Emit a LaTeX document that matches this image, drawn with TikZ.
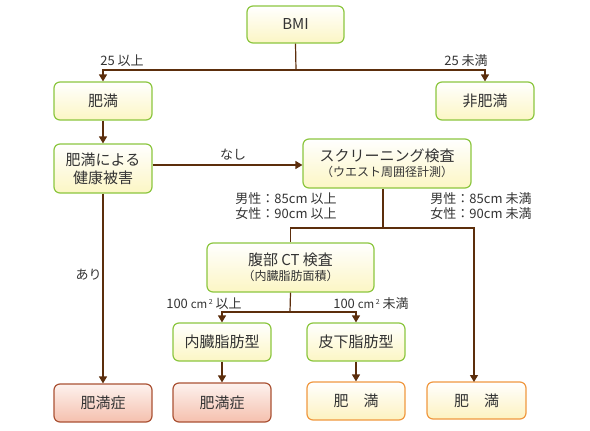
\documentclass[tikz,border=0pt]{standalone}
\usepackage{fontspec}
\setmainfont{Noto Sans CJK JP}
\usetikzlibrary{arrows.meta}
\definecolor{txt}{RGB}{51,51,51}
\definecolor{lnc}{RGB}{92,46,12}
\definecolor{gbd}{RGB}{140,198,63}
\definecolor{gfl}{RGB}{252,246,196}
\definecolor{rbd}{RGB}{170,82,52}
\definecolor{rfl}{RGB}{245,192,174}
\definecolor{rtp}{RGB}{253,242,238}
\definecolor{obd}{RGB}{240,152,64}
\definecolor{ofl}{RGB}{253,242,192}
\newcommand{\sqcmunit}{{\fontsize{11.5}{13}\selectfont cm}\kern1.5pt\raisebox{4.5pt}{\fontsize{7}{8}\selectfont 2}}
\tikzset{
  box/.style={rounded corners=6pt, line width=1.2pt, text=txt, align=center,
    inner sep=0pt, font=\fontsize{15}{18}\selectfont},
  gbox/.style={box, draw=gbd, top color=white, bottom color=gfl},
  rbox/.style={box, draw=rbd, top color=rtp, bottom color=rfl},
  obox/.style={box, draw=obd, top color=white, bottom color=ofl},
  line/.style={draw=lnc, line width=1.2pt},
  arr/.style={line, -{Triangle[length=7pt,width=8pt]}},
  lab/.style={text=txt, font=\fontsize{13}{15}\selectfont, inner sep=0pt, align=left}
}
\begin{document}
\begin{tikzpicture}[x=1pt,y=-1pt]
\useasboundingbox (0,0) rectangle (590,431);
% boxes
\node[gbox, minimum width=97pt, minimum height=37pt] (bmi) at (295.5,24.5) {BMI};
\node[gbox, minimum width=98pt, minimum height=38pt] (ob1) at (103,101) {肥満};
\node[gbox, minimum width=98pt, minimum height=38pt] (nob) at (485,101) {非肥満};
\node[gbox, minimum width=98pt, minimum height=49pt] (hlt) at (103,168.5) {肥満による\\健康被害};
\node[gbox, minimum width=168pt, minimum height=49pt] (scr) at (387,163.5)
  {スクリーニング検査\\[-3pt]{\fontsize{12}{13}\selectfont （ウエスト周囲径計測）}};
\node[gbox, minimum width=167pt, minimum height=49pt] (ct) at (290.5,267.5)
  {腹部 CT 検査\\[-3pt]{\fontsize{12}{13}\selectfont （内臓脂肪面積）}};
\node[gbox, minimum width=98pt, minimum height=38pt] (vis) at (222,342) {内臓脂肪型};
\node[gbox, minimum width=98pt, minimum height=38pt] (sbc) at (356,342) {皮下脂肪型};
\node[rbox, minimum width=98pt, minimum height=38pt] (b1) at (103,403) {肥満症};
\node[rbox, minimum width=98pt, minimum height=39pt] (b2) at (222,402.5) {肥満症};
\node[obox, minimum width=98pt, minimum height=38pt] (b3) at (356,401) {肥　満};
\node[obox, minimum width=99pt, minimum height=37pt] (b4) at (476.5,400.5) {肥　満};
% junctions
\coordinate (j1) at (296,70);
\coordinate (h1) at (0,165);
\coordinate (s1) at (383,188);
\coordinate (j2) at (383,228);
\coordinate (j3) at (290,312);
\coordinate (t4) at (474,382);
% connectors
\draw[line] (bmi.south) -- (j1);
\draw[arr] (j1) -| (ob1.north);
\draw[arr] (j1) -| (nob.north);
\draw[arr] (ob1.south) -- (hlt.north);
\draw[arr] (hlt.east |- h1) -- (scr.west |- h1);
\draw[arr] (hlt.south) -- (b1.north);
\draw[line] (scr.south -| s1) -- (j2);
\draw[line] (j2) -| (ct.north);
\draw[arr] (j2) -| (t4);
\draw[line] (ct.south) -- (j3);
\draw[arr] (j3) -| (vis.north);
\draw[arr] (j3) -| (sbc.north);
\draw[arr] (vis.south) -- (b2.north);
\draw[arr] (sbc.south) -- (b3.north);
% labels
\node[lab] (l1) at (122,61) {25 以上};
\node[lab] (l2) at (466,61) {25 未満};
\node[lab] (l3) at (233,155) {なし};
\node[lab] (l4) at (88.5,275) {あり};
\node[lab] (l5) at (286,206.5) {男性：85cm 以上\\女性：90cm 以上};
\node[lab] (l6) at (481,206.5) {男性：85cm 未満\\女性：90cm 未満};
\node[lab] (l7) at (204,304) {100 \sqcmunit{} 以上};
\node[lab] (l8) at (371,304) {100 \sqcmunit{} 未満};
\end{tikzpicture}
\end{document}
